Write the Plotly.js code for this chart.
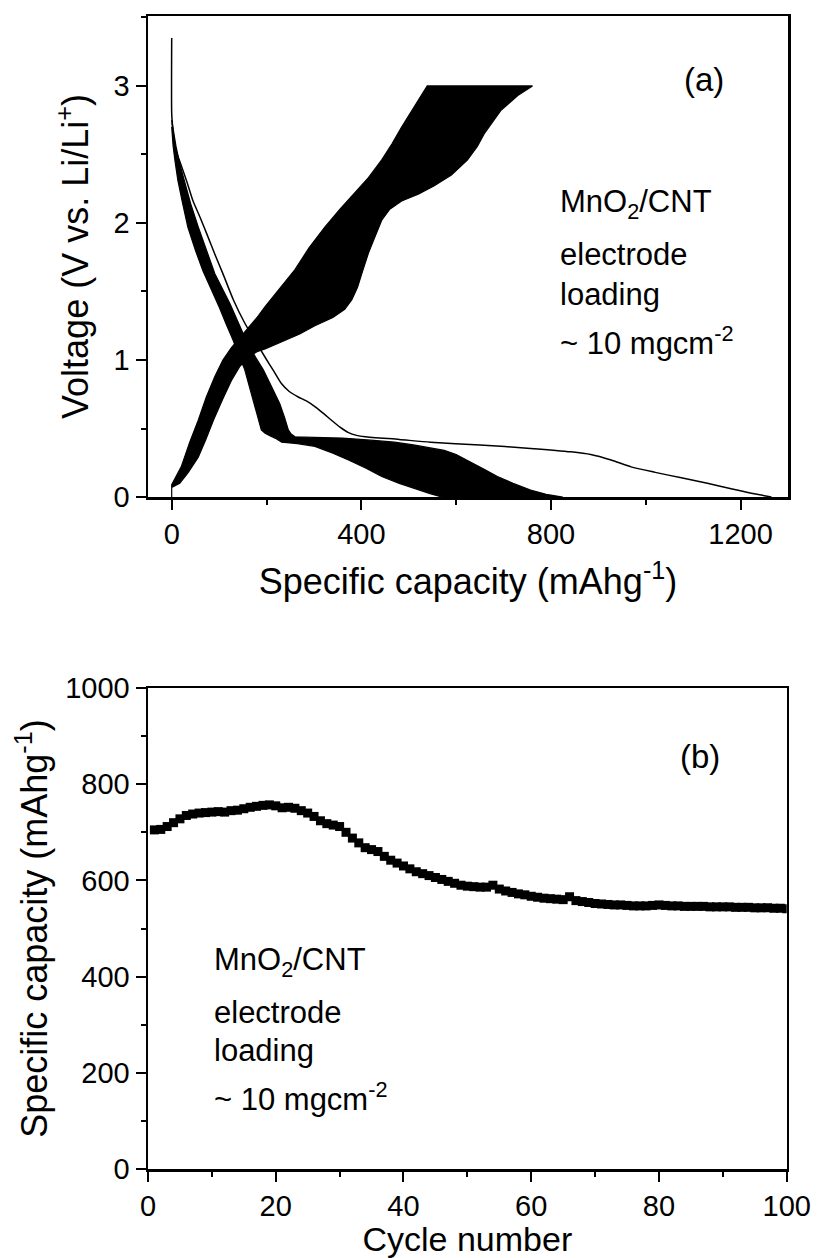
<!DOCTYPE html>
<html><head><meta charset="utf-8">
<script src="https://cdn.plot.ly/plotly-3.0.1.min.js"></script>
<style>html,body{margin:0;padding:0;background:#fff;}</style>
</head><body><div id="chart" style="width:817px;height:1258px;"></div>
<script>
// ---------- Panel (a): galvanostatic voltage profiles ----------
// first discharge (cycle 1)
const dis1Cap = [0, 0, 2, 5, 10, 21, 33, 45, 60, 74, 90, 108, 130, 154, 176, 197, 215, 231, 248, 267, 285, 302, 320, 337, 355, 373, 390, 408, 480, 546, 650, 757, 842, 884, 927, 969, 1020, 1075, 1130, 1180, 1220, 1250, 1265];
const dis1V   = [3.35, 2.80, 2.70, 2.60, 2.52, 2.41, 2.29, 2.16, 2.04, 1.92, 1.78, 1.63, 1.44, 1.27, 1.14, 1.02, 0.92, 0.83, 0.77, 0.73, 0.70, 0.66, 0.61, 0.56, 0.51, 0.47, 0.45, 0.44, 0.42, 0.40, 0.38, 0.355, 0.33, 0.31, 0.27, 0.22, 0.18, 0.14, 0.10, 0.06, 0.03, 0.01, 0.0];
// later discharges: highest-capacity edge of the bundle
const disHiCap = [0, 4, 9, 17, 27, 40, 56, 73, 91, 107, 123, 142, 160, 177, 193, 210, 228, 238, 246, 252, 260, 300, 360, 420, 470, 510, 545, 575, 600, 631, 660, 687, 720, 757, 790, 825];
const disHiV   = [2.75, 2.65, 2.56, 2.43, 2.31, 2.14, 1.97, 1.80, 1.63, 1.52, 1.41, 1.26, 1.12, 1.02, 0.93, 0.81, 0.68, 0.58, 0.49, 0.46, 0.44, 0.435, 0.43, 0.415, 0.40, 0.38, 0.36, 0.34, 0.31, 0.25, 0.20, 0.15, 0.10, 0.05, 0.02, 0.0];
// later discharges: lowest-capacity edge of the bundle
const disLoCap = [0, 3, 7, 13, 22, 34, 50, 66, 84, 101, 115, 130, 142, 154, 165, 175, 182, 189, 197, 208, 218, 232, 265, 302, 340, 373, 410, 443, 480, 514, 545, 570];
const disLoV   = [2.70, 2.56, 2.45, 2.31, 2.16, 1.97, 1.80, 1.65, 1.51, 1.38, 1.26, 1.14, 1.03, 0.93, 0.80, 0.68, 0.58, 0.49, 0.465, 0.445, 0.43, 0.40, 0.39, 0.37, 0.32, 0.27, 0.21, 0.15, 0.10, 0.06, 0.025, 0.0];
// charges: lowest-capacity edge of the bundle (ends at 3 V)
const chgLoCap = [0, 0, 20, 38, 56, 73, 91, 108, 126, 143, 161, 180, 197, 231, 260, 290, 323, 355, 387, 415, 443, 465, 485, 510, 539];
const chgLoV   = [0.0, 0.09, 0.22, 0.40, 0.56, 0.73, 0.88, 1.00, 1.09, 1.16, 1.23, 1.31, 1.39, 1.54, 1.66, 1.82, 1.97, 2.10, 2.22, 2.33, 2.46, 2.58, 2.70, 2.84, 3.0];
// charges: highest-capacity edge of the bundle (ends at 3 V)
const chgHiCap = [0, 0, 17, 35, 56, 72, 88, 107, 126, 143, 161, 180, 197, 231, 270, 302, 340, 365, 380, 392, 401, 415, 429, 443, 460, 485, 520, 553, 590, 624, 645, 659, 694, 730, 761];
const chgHiV   = [0.0, 0.07, 0.10, 0.18, 0.29, 0.42, 0.56, 0.71, 0.85, 0.95, 1.02, 1.06, 1.08, 1.13, 1.19, 1.25, 1.31, 1.37, 1.44, 1.53, 1.63, 1.78, 1.90, 2.02, 2.10, 2.16, 2.21, 2.27, 2.35, 2.46, 2.56, 2.65, 2.82, 2.93, 3.0];

// ---------- Panel (b): cycling ----------
const cycleNo = [1,2,3,4,5,6,7,8,9,10,11,12,13,14,15,16,17,18,19,20,21,22,23,24,25,26,27,28,29,30,31,32,33,34,35,36,37,38,39,40,41,42,43,44,45,46,47,48,49,50,51,52,53,54,55,56,57,58,59,60,61,62,63,64,65,66,67,68,69,70,71,72,73,74,75,76,77,78,79,80,81,82,83,84,85,86,87,88,89,90,91,92,93,94,95,96,97,98,99,100];
const capacity = [705,706,712,720,728,735,738,740,741,742,743,742,745,746,749,752,754,756,757,755,751,752,750,745,740,733,724,718,715,712,700,688,678,668,664,660,650,642,636,630,624,618,614,610,606,602,598,594,590,588,587,586,586,590,582,578,575,572,570,567,565,563,562,561,560,566,558,556,554,552,551,550,549,549,548,547,547,547,548,549,548,547,547,546,546,546,546,545,545,545,545,544,544,544,543,543,543,542,542,541];

// ---------- tick / label text ----------
const xTitleA = 'Specific capacity (mAhg<sup>-1</sup>)';
const yTitleA = 'Voltage (V vs. Li/Li<sup>+</sup>)';
const xTitleB = 'Cycle number';
const yTitleB = 'Specific capacity (mAhg<sup>-1</sup>)';
const noteLines = ['MnO<sub>2</sub>/CNT', 'electrode', 'loading', '~ 10 mgcm<sup>-2</sup>'];

const FONT = 'Liberation Sans, Arial, sans-serif';
const rev = a => a.slice().reverse();

const traces = [
  {x: disHiCap.concat(rev(disLoCap)), y: disHiV.concat(rev(disLoV)), xaxis:'x', yaxis:'y',
   mode:'lines', fill:'toself', fillcolor:'#000', line:{color:'#000', width:1.2}, hoverinfo:'skip'},
  {x: chgLoCap.concat(rev(chgHiCap)), y: chgLoV.concat(rev(chgHiV)), xaxis:'x', yaxis:'y',
   mode:'lines', fill:'toself', fillcolor:'#000', line:{color:'#000', width:1.2}, hoverinfo:'skip'},
  {x: dis1Cap, y: dis1V, xaxis:'x', yaxis:'y', mode:'lines', line:{color:'#000', width:1.5, shape:'spline', smoothing:0.6}},
  {x: cycleNo, y: capacity, xaxis:'x2', yaxis:'y2', mode:'markers',
   marker:{symbol:'square', size:9, color:'#000', line:{width:0}}}
];

function axis(extra) {
  return Object.assign({
    showline:true, linecolor:'#000', linewidth:2.5, mirror:true,
    ticks:'outside', ticklen:10, tickwidth:2, tickcolor:'#000',
    showgrid:false, zeroline:false,
    tickfont:{family:FONT, size:29, color:'#000'}
  }, extra);
}
const minor = d => ({dtick:d, ticks:'outside', ticklen:5, tickwidth:2, tickcolor:'#000', showgrid:false});
const titleFont = {family:FONT, size:36, color:'#000'};

const anns = [];
function note(xref, yref, x, ys, sz) {
  noteLines.forEach((t, i) => anns.push({xref, yref, x, y: ys[i], text: t, showarrow:false,
    xanchor:'left', yanchor:'middle', align:'left', font:{family:FONT, size:sz, color:'#000'}}));
}
note('x domain', 'y domain', 0.6405, [(497-204)/481, (497-254)/481, (497-294)/481, (497-341)/481], 31);
note('x2 domain', 'y2 domain', 0.0997, [(1169-962)/481, (1169-1012)/481, (1169-1050)/481, (1169-1097)/481], 31);
anns.push({xref:'x domain', yref:'y domain', x:0.869, y:(497-79)/481, text:'(a)', showarrow:false,
  xanchor:'center', yanchor:'middle', font:{family:FONT, size:33, color:'#000'}});
anns.push({xref:'x2 domain', yref:'y2 domain', x:0.864, y:(1169-756)/481, text:'(b)', showarrow:false,
  xanchor:'center', yanchor:'middle', font:{family:FONT, size:33, color:'#000'}});

const layout = {
  width:817, height:1258, showlegend:false,
  paper_bgcolor:'#fff', plot_bgcolor:'#fff',
  margin:{l:148, r:29, t:16, b:89},
  xaxis: axis({domain:[0,1], anchor:'y', range:[-50,1300], tick0:0, dtick:400, minor:minor(200),
    title:{text:xTitleA, font:titleFont, standoff:20}}),
  yaxis: axis({domain:[0.5828,1], anchor:'x', range:[0,3.51], tick0:0, dtick:1, minor:minor(0.5),
    title:{text:yTitleA, font:titleFont, standoff:14}}),
  xaxis2: axis({domain:[0,0.998], anchor:'y2', range:[0,100], tick0:0, dtick:20, minor:minor(10),
    title:{text:xTitleB, font:{family:FONT, size:34, color:'#000'}, standoff:13}}),
  yaxis2: axis({domain:[0,0.41717], anchor:'x2', range:[0,1000], tick0:0, dtick:200, minor:minor(100),
    title:{text:yTitleB, font:titleFont, standoff:7}}),
  annotations: anns
};
Plotly.newPlot('chart', traces, layout, {displayModeBar:false, staticPlot:true});
</script></body></html>
